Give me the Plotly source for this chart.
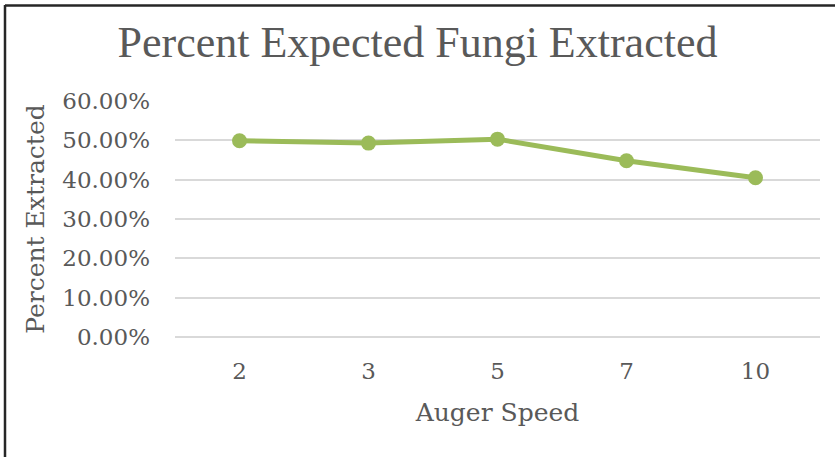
import plotly.graph_objects as go

auger_speed = ["2", "3", "5", "7", "10"]
percent_extracted = [0.499, 0.493, 0.503, 0.448, 0.405]
y_ticks = [0, 0.1, 0.2, 0.3, 0.4, 0.5, 0.6]

axis_font = "DejaVu Serif"
title_font = "Liberation Serif"
text_col = "#595959"

fig = go.Figure()
fig.add_trace(go.Scatter(
    x=auger_speed, y=percent_extracted,
    mode="lines+markers",
    line=dict(color="#9BBB59", width=5),
    marker=dict(color="#9BBB59", size=15),
    showlegend=False,
))

fig.update_layout(
    width=835, height=457,
    margin=dict(l=175, r=15, t=101, b=120),
    paper_bgcolor="white", plot_bgcolor="white",
    font=dict(family=axis_font, color=text_col, size=23),
    title=dict(
        text="Percent Expected Fungi Extracted",
        x=0.5, xanchor="center",
        y=1 - 42 / 457, yanchor="middle", yref="container",
        font=dict(size=44, family=title_font, color=text_col),
    ),
)

fig.update_xaxes(
    type="category",
    range=[-0.5, 4.5],
    title=dict(text="Auger Speed", font=dict(size=25), standoff=20),
    showgrid=False, showline=False, ticks="",
    ticklabelstandoff=18,
)
fig.update_yaxes(
    range=[0, 0.6],
    tickvals=y_ticks,
    tickformat=".2%",
    showgrid=True, gridcolor="#D9D9D9", gridwidth=1.5,
    zeroline=True, zerolinecolor="#D9D9D9", zerolinewidth=1.5,
    showline=False, ticks="",
    ticklabelstandoff=24,
    title=dict(text="Percent Extracted", font=dict(size=25), standoff=10),
)

# outer frame of the original picture (left and top edges visible)
fig.add_shape(type="line", xref="paper", yref="paper",
              x0=(5 - 175) / 645, x1=(5 - 175) / 645,
              y0=1 + (101 - 5) / 236, y1=-0.6,
              line=dict(color="#262626", width=2.5))
fig.add_shape(type="line", xref="paper", yref="paper",
              x0=(5 - 175) / 645, x1=1.1,
              y0=1 + (101 - 5.5) / 236, y1=1 + (101 - 5.5) / 236,
              line=dict(color="#262626", width=2.5))

fig.write_html("out.html", config={"displayModeBar": False},
               post_script="document.body.style.margin='0';")
